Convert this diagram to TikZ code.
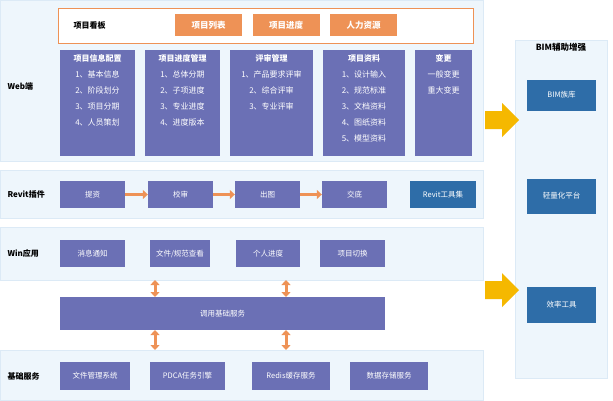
\documentclass[tikz,border=0pt]{standalone}
\usepackage{fontspec}
\setmainfont{Noto Sans CJK SC}
\usetikzlibrary{arrows.meta}
\definecolor{panel}{HTML}{EEF6FC}
\definecolor{panelb}{HTML}{DCEAF6}
\definecolor{purp}{HTML}{6B70B5}
\definecolor{org}{HTML}{EE9256}
\definecolor{blu}{HTML}{2E6DA8}
\definecolor{gold}{HTML}{F5B800}
\begin{document}
\begin{tikzpicture}[x=1pt,y=-1pt,
  pan/.style={fill=panel,draw=panelb,line width=0.6pt},
  pbox/.style={fill=purp,text=white,font=\fontsize{7.5}{10}\selectfont,align=center},
  wbox/.style={text=white,font=\fontsize{8}{16}\selectfont,align=center,anchor=north,inner sep=2pt},
  obox/.style={fill=org,text=white,font=\fontsize{8.5}{10}\selectfont\bfseries},
  bbox/.style={fill=blu,text=white,font=\fontsize{7.5}{10}\selectfont,align=center},
  lab/.style={font=\fontsize{8}{10}\selectfont\bfseries,anchor=west},
  oarr/.style={org,line width=3pt,-{Triangle[length=5pt,width=9pt]}},
  darr/.style={org,line width=3pt,{Triangle[length=5pt,width=9pt]}-{Triangle[length=5pt,width=9pt]}}]
\useasboundingbox (0,0) rectangle (613,400);
\fill[white] (0,0) rectangle (613,400);
% panels
\draw[pan] (0,0) rectangle (483,161);
\draw[pan] (0,170) rectangle (483,218);
\draw[pan] (0,227) rectangle (483,280);
\draw[pan] (0,350) rectangle (483,400);
\draw[pan] (515,40) rectangle (607,378);
% web
\node[lab] (lw) at (4,86) {Web端};
\draw[org,line width=0.8pt,fill=white] (58,8) rectangle (473,43);
\node[lab] (kb) at (70,25) {项目看板};
\node[obox,minimum width=67pt,minimum height=22pt] (o1) at (208.5,25) {项目列表};
\node[obox,minimum width=67pt,minimum height=22pt] (o2) at (286,25) {项目进度};
\node[obox,minimum width=67pt,minimum height=22pt] (o3) at (363.5,25) {人力资源};
\fill[purp] (60,50) rectangle (135,156); \node[wbox] (w1) at (97.5,52) {\textbf{项目信息配置}\\1、基本信息\\2、阶段划分\\3、项目分期\\4、人员策划};
\fill[purp] (145,50) rectangle (220,156); \node[wbox] (w2) at (182.5,52) {\textbf{项目进度管理}\\1、总体分期\\2、子项进度\\3、专业进度\\4、进度版本};
\fill[purp] (230,50) rectangle (313,156); \node[wbox] (w3) at (271.5,52) {\textbf{评审管理}\\1、产品要求评审\\2、综合评审\\3、专业评审};
\fill[purp] (323,50) rectangle (405,156); \node[wbox] (w4) at (364,52) {\textbf{项目资料}\\1、设计输入\\2、规范标准\\3、文档资料\\4、图纸资料\\5、模型资料};
\fill[purp] (415,50) rectangle (472,156); \node[wbox] (w5) at (443.5,52) {\textbf{变更}\\一般变更\\重大变更};
% revit
\node[lab] (lr) at (4,194) {Revit插件};
\node[pbox,minimum width=65pt,minimum height=27pt] (r1) at (92.5,194.5) {提资};
\node[pbox,minimum width=65pt,minimum height=27pt] (r2) at (180.5,194.5) {校审};
\node[pbox,minimum width=65pt,minimum height=27pt] (r3) at (267.5,194.5) {出图};
\node[pbox,minimum width=65pt,minimum height=27pt] (r4) at (354.5,194.5) {交底};
\node[bbox,minimum width=66pt,minimum height=27pt] (r5) at (443,194.5) {Revit工具集};
\draw[oarr] (r1) -- (r2);
\draw[oarr] (r2) -- (r3);
\draw[oarr] (r3) -- (r4);
% win
\node[lab] (lwin) at (4,253) {Win应用};
\node[pbox,minimum width=65pt,minimum height=27pt] (a1) at (92.5,253.5) {消息通知};
\node[pbox,minimum width=60pt,minimum height=27pt,text width=50pt,inner sep=1pt] (a2) at (180,253.5) {文件/规范查看};
\node[pbox,minimum width=64pt,minimum height=27pt] (a3) at (268,253.5) {个人进度};
\node[pbox,minimum width=65pt,minimum height=27pt] (a4) at (352.5,253.5) {项目切换};
\node[pbox,minimum width=325pt,minimum height=33pt] (call) at (222.5,313.5) {调用基础服务};
\coordinate (u1) at (155,280); \coordinate (u1b) at (155,297);
\coordinate (u2) at (286,280); \coordinate (u2b) at (286,297);
\coordinate (d1) at (155,330); \coordinate (d1b) at (155,350);
\coordinate (d2) at (286,330); \coordinate (d2b) at (286,350);
\draw[darr] (u1) -- (u1b);
\draw[darr] (u2) -- (u2b);
\draw[darr] (d1) -- (d1b);
\draw[darr] (d2) -- (d2b);
% base
\node[lab] (lb) at (4,376) {基础服务};
\node[pbox,minimum width=70pt,minimum height=28pt] (b1) at (95,376) {文件管理系统};
\node[pbox,minimum width=75pt,minimum height=28pt] (b2) at (187.5,376) {PDCA任务引擎};
\node[pbox,minimum width=78pt,minimum height=28pt] (b3) at (291,376) {Redis缓存服务};
\node[pbox,minimum width=78pt,minimum height=28pt] (b4) at (389,376) {数据存储服务};
% right
\node[font=\fontsize{8.5}{10}\selectfont\bfseries] (rt) at (561,47) {BIM辅助增强};
\node[bbox,minimum width=69pt,minimum height=31pt] (s1) at (561.5,95) {BIM族库};
\node[bbox,minimum width=69pt,minimum height=35pt] (s2) at (561.5,196) {轻量化平台};
\node[bbox,minimum width=69pt,minimum height=36pt] (s3) at (561.5,305) {效率工具};
\fill[gold] (485,111) -- (502,111) -- (502,103) -- (519,120) -- (502,137) -- (502,129) -- (485,129) -- cycle;
\fill[gold] (485,281) -- (502,281) -- (502,273) -- (519,290) -- (502,307) -- (502,299) -- (485,299) -- cycle;
\end{tikzpicture}
\end{document}
